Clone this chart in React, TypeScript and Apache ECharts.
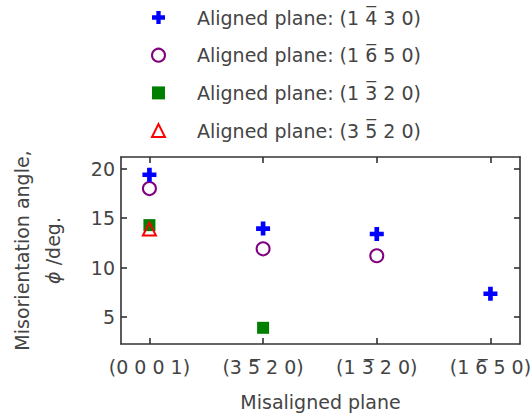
import React, { useEffect, useRef } from "react";
import * as echarts from "echarts";

const categories = ["(0 0 0 1)", "(3 5\u0305 2 0)", "(1 3\u0305 2 0)", "(1 6\u0305 5 0)"];
const seriesNames = [
  "Aligned plane: (1 4\u0305 3 0)",
  "Aligned plane: (1 6\u0305 5 0)",
  "Aligned plane: (1 3\u0305 2 0)",
  "Aligned plane: (3 5\u0305 2 0)",
];
const plane1430: [number, number][] = [[0, 19.4], [1, 13.95], [2, 13.4], [3, 7.35]];
const plane1650: [number, number][] = [[0, 18.0], [1, 11.9], [2, 11.2]];
const plane1320: [number, number][] = [[0, 14.3], [1, 3.9]];
const plane3520: [number, number][] = [[0, 13.9]];
const yTicks = [5, 10, 15, 20];
const xTicks = [0, 1, 2, 3];

const FONT = "DejaVu Sans";
const TEXT = "#444";
const AXIS = "#333";
const PLUS = "path://M4,0H8V4H12V8H8V12H4V8H0V4H4Z";

export default function App() {
  const ref = useRef<HTMLDivElement>(null);
  useEffect(() => {
    const chart = echarts.init(ref.current!, null, { renderer: "svg" });
    const axisLine = { show: true, onZero: false, lineStyle: { color: AXIS, width: 1.6 } };
    const tick = (vals: number[]) => ({
      show: true,
      inside: true,
      length: 6,
      customValues: vals,
      lineStyle: { color: AXIS, width: 1.6 },
    });
    chart.setOption({
      animation: false,
      textStyle: { fontFamily: FONT },
      legend: {
        orient: "vertical",
        left: 151,
        top: 7,
        padding: 0,
        itemWidth: 13,
        itemHeight: 13,
        itemGap: 16.7,
        data: seriesNames,
        textStyle: { fontFamily: FONT, fontSize: 19, color: TEXT, lineHeight: 21, padding: [0, 0, 0, 27] },
      },
      grid: { left: 121, right: 12, top: 157, bottom: 73, containLabel: false, outerBoundsMode: "none" },
      xAxis: [
        {
          type: "value",
          min: -0.25,
          max: 3.26,
          axisLine,
          axisTick: tick(xTicks),
          splitLine: { show: false },
          axisLabel: {
            customValues: xTicks,
            formatter: (v: number) => categories[Math.round(v)] ?? "",
            fontFamily: FONT,
            fontSize: 19,
            color: TEXT,
            margin: 13,
          },
          name: "Misaligned plane",
          nameLocation: "middle",
          nameGap: 48,
          nameTextStyle: { fontFamily: FONT, fontSize: 19, color: TEXT },
        },
        {
          type: "value",
          position: "top",
          min: -0.25,
          max: 3.26,
          axisLine,
          axisTick: tick(xTicks),
          splitLine: { show: false },
          axisLabel: { show: false },
        },
      ],
      yAxis: [
        {
          type: "value",
          min: 2.26,
          max: 21.2,
          axisLine,
          axisTick: tick(yTicks),
          splitLine: { show: false },
          axisLabel: {
            customValues: yTicks,
            fontFamily: FONT,
            fontSize: 19,
            color: TEXT,
            margin: 6,
          },
          name: "Misorientation angle,\n{i|\u03d5} /deg.",
          nameLocation: "middle",
          nameRotate: 90,
          nameGap: 53,
          nameTextStyle: {
            fontFamily: FONT,
            fontSize: 19,
            color: TEXT,
            lineHeight: 31,
            rich: { i: { fontStyle: "italic", fontFamily: FONT, fontSize: 19, color: TEXT, lineHeight: 31 } },
          },
        },
        {
          type: "value",
          position: "right",
          min: 2.26,
          max: 21.2,
          axisLine,
          axisTick: tick(yTicks),
          splitLine: { show: false },
          axisLabel: { show: false },
        },
      ],
      series: [
        {
          name: seriesNames[0],
          type: "scatter",
          data: plane1430,
          symbol: PLUS,
          symbolSize: 14,
          itemStyle: { color: "#0000ff", opacity: 1 },
          z: 5,
        },
        {
          name: seriesNames[1],
          type: "scatter",
          data: plane1650,
          symbol: "circle",
          symbolSize: 13,
          itemStyle: { color: "#ffffff", borderColor: "#800080", borderWidth: 2, opacity: 1 },
        },
        {
          name: seriesNames[2],
          type: "scatter",
          data: plane1320,
          symbol: "rect",
          symbolSize: 12,
          itemStyle: { color: "#008000", opacity: 1 },
        },
        {
          name: seriesNames[3],
          type: "scatter",
          data: plane3520,
          symbol: "triangle",
          symbolSize: 13,
          itemStyle: { color: "rgba(255,255,255,0)", borderColor: "#ff0000", borderWidth: 2, opacity: 1 },
        },
      ],
    });
    return () => chart.dispose();
  }, []);
  return <div ref={ref} style={{ width: 532, height: 417, position: "absolute", left: 0, top: 0 }} />;
}
